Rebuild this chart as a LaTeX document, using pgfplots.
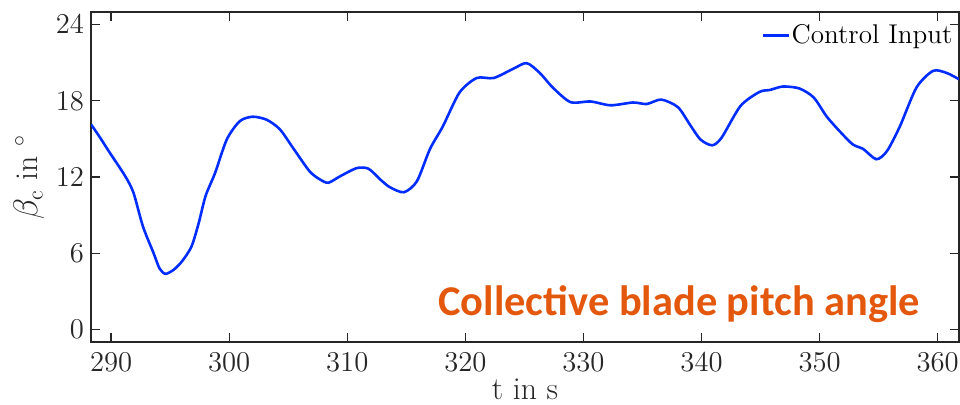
\documentclass[border=0pt]{standalone}
\usepackage{pgfplots}
\pgfplotsset{compat=1.18}
\usepackage{fontspec}
\newfontfamily\calib{Carlito}

\definecolor{axgray}{RGB}{38,38,38}
\definecolor{ctrlblue}{RGB}{0,45,255}
\definecolor{titleorange}{RGB}{228,88,14}

\begin{document}
\begin{tikzpicture}
\useasboundingbox (0,0) rectangle (480bp,202.5bp);
\begin{axis}[
  scale only axis,
  width=434bp, height=165bp,
  at={(45.5bp,31.5bp)}, anchor=south west,
  xmin=288.3, xmax=361.8,
  ymin=-1, ymax=25,
  xtick={290,300,...,360},
  ytick={0,6,12,18,24},
  tick align=inside,
  major tick length=4.5bp,
  axis line style={axgray, line width=0.6bp},
  tick style={axgray, line width=0.6bp},
  tick label style={font=\fontsize{14}{16}\selectfont, text=axgray},
  xticklabel style={yshift=-2bp},
  label style={font=\fontsize{16}{18}\selectfont, text=axgray},
  xlabel={t in s},
  ylabel={$\beta_\mathrm{c}$ in $^\circ$},
  xlabel style={yshift=3bp},
  ylabel style={yshift=-1bp},
  legend style={draw=none, fill=none, at={(0.997,0.975)}, anchor=north east,
    font=\fontsize{13.6}{15}\selectfont, inner sep=1bp,
    nodes={inner sep=0.8bp},
    /tikz/every even column/.append style={column sep=0bp}},
  legend cell align=left,
  legend image code/.code={\draw[#1, line width=1.3pt] (0bp,0bp) -- (13bp,0bp);},
]
\addplot[ctrlblue, line width=1.3pt, smooth, tension=0.45] coordinates {
(288.3,16.15) (289.0,15.2) (289.9,13.9) (291.2,12.06) (291.9,10.75)
(292.7,8.1) (293.6,6.0) (294.1,4.8) (294.6,4.37) (295.3,4.69)
(296.0,5.35) (296.8,6.5) (297.4,8.3) (298.0,10.5) (298.8,12.3)
(299.8,14.96) (300.9,16.4) (302.0,16.75) (303.2,16.5) (304.3,15.75)
(305.4,14.3) (306.8,12.46) (307.7,11.8) (308.4,11.55) (309.4,12.06)
(310.8,12.7) (311.8,12.65) (312.8,11.8) (313.6,11.2) (314.8,10.8)
(315.9,11.67) (317.0,14.2) (318.1,16.0) (319.5,18.65) (320.96,19.8)
(322.4,19.8) (324.1,20.55) (325.2,20.97) (326.3,20.2) (327.4,19.05)
(328.9,17.9) (330.6,17.95) (332.3,17.65) (334.2,17.87) (335.35,17.75)
(336.6,18.1) (338.0,17.5) (339.0,16.15) (339.9,14.96) (340.9,14.5)
(341.7,15.1) (343.3,17.6) (344.9,18.7) (345.8,18.86) (346.9,19.13)
(348.3,18.97) (349.5,18.26) (350.6,16.76) (351.7,15.6) (352.8,14.57)
(353.7,14.2) (354.8,13.4) (355.7,14.04) (356.8,16.0) (358.2,19.05)
(359.6,20.36) (360.75,20.2) (361.8,19.7)
};
\addlegendentry{Control Input}
\node[anchor=base west, inner sep=0pt, text=titleorange,
  font=\calib\bfseries\fontsize{21.3}{24}\selectfont]
  at (axis cs:317.68,1.05) {Collective blade pitch angle};
\end{axis}
\end{tikzpicture}
\end{document}
